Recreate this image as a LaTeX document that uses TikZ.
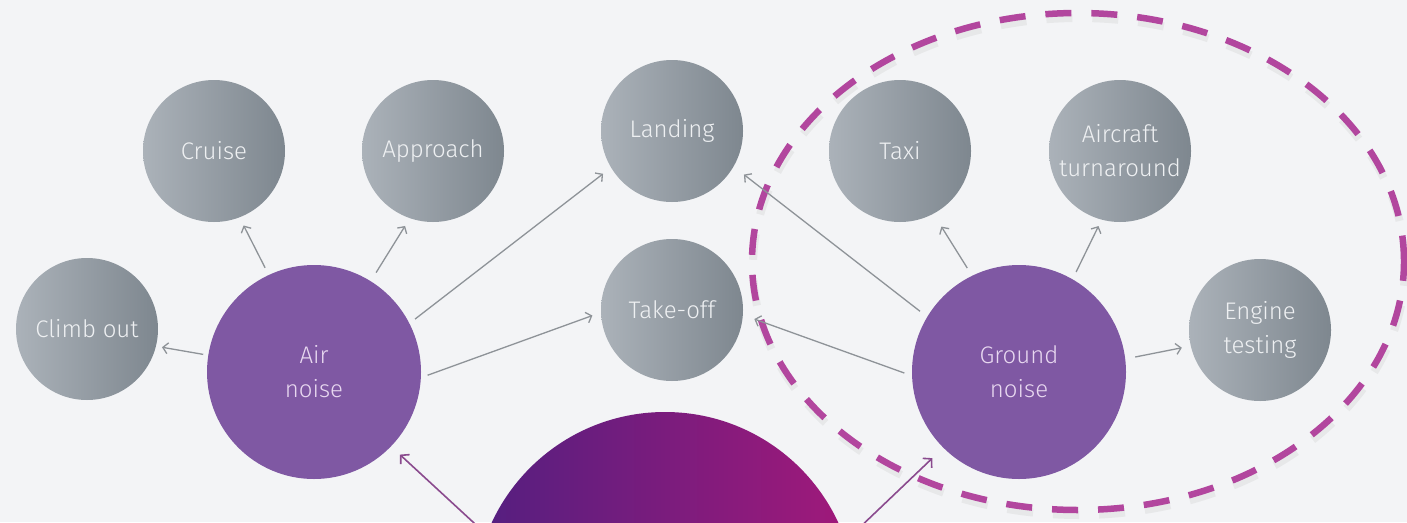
\documentclass[tikz,border=0pt]{standalone}
\usepackage{fontspec}
\IfFontExistsTF{Fira Sans Light}{\setmainfont{Fira Sans Light}}{\setmainfont{Open Sans}}
\usetikzlibrary{arrows.meta}
\definecolor{bgc}{HTML}{F3F4F6}
\definecolor{gL}{HTML}{ABB2B9}
\definecolor{gR}{HTML}{7E878F}
\definecolor{gT}{HTML}{EEF0F2}
\definecolor{pur}{HTML}{7F58A3}
\definecolor{purT}{HTML}{E8D8F0}
\definecolor{coreL}{HTML}{531F80}
\definecolor{coreM}{HTML}{741F7F}
\definecolor{coreR}{HTML}{A2197A}
\definecolor{arrG}{HTML}{8E9398}
\definecolor{arrP}{HTML}{8A4A8E}
\definecolor{dashC}{HTML}{B2469E}
\tikzset{
  greyball/.style={circle, minimum size=142pt, inner sep=0pt, left color=gL, right color=gR,
    text=gT, align=center, font=\fontsize{24}{34}\selectfont},
  purball/.style={circle, minimum size=214pt, inner sep=0pt, fill=pur,
    text=purT, align=center, font=\fontsize{24}{34}\selectfont},
  coreball/.style={circle, minimum size=382pt, inner sep=0pt, left color=coreL, middle color=coreM, right color=coreR},
  garrow/.style={draw=arrG, line width=1.3pt, -{Straight Barb[length=5pt,width=11pt]}},
  parrow/.style={draw=arrP, line width=1.6pt, -{Straight Barb[length=6pt,width=13pt]}},
  groupring/.style={draw=dashC, line width=6.5pt, dash pattern=on 26pt off 20pt},
  ringshadow/.style={draw=black!50, line width=8pt, opacity=0.10, dash pattern=on 26pt off 20pt}
}
\begin{document}
\begin{tikzpicture}[x=1pt,y=-1pt]
\fill[bgc] (0,0) rectangle (1407,522);
\useasboundingbox (0,0) rectangle (1407,522);
\clip (0,0) rectangle (1407,522);
% nodes
\node[greyball] (climb) at (87,329) {Climb out};
\node[greyball] (cruise) at (214,151) {Cruise};
\node[greyball] (approach) at (433,151) {Approach};
\node[greyball] (landing) at (672,131) {Landing};
\node[greyball] (takeoff) at (672,310) {Take-off};
\node[greyball] (taxi) at (900,151) {Taxi};
\node[greyball] (aircraft) at (1120,151) {Aircraft\\turnaround};
\node[greyball] (engine) at (1260,330) {Engine\\testing};
\node[purball] (air) at (314,372) {Air\\noise};
\node[purball] (ground) at (1019,372) {Ground\\noise};
\node[coreball] (core) at (665,603) {};
% dashed group ring
\draw[ringshadow] (1079,266.5) ellipse [x radius=326pt, y radius=248.5pt];
\draw[groupring] (1078,261.5) ellipse [x radius=326pt, y radius=248.5pt];
% grey arrows
\draw[garrow, shorten <=5pt, shorten >=6pt] (air.171) -- (climb.-14);
\draw[garrow, shorten <=8pt, shorten >=9pt] (air.115) -- (cruise.-69.5);
\draw[garrow, shorten <=10pt, shorten >=9pt] (air.58) -- (approach.-109);
\draw[garrow, shorten <=7pt, shorten >=10pt] (air.27) -- (landing.211);
\draw[garrow, shorten <=7pt, shorten >=9pt] (air.-3) -- (takeoff.182);
\draw[garrow, shorten <=9pt, shorten >=13pt] (ground.149.5) -- (landing.-30);
\draw[garrow, shorten <=8pt, shorten >=12pt] (ground.182.5) -- (takeoff.-4.8);
\draw[garrow, shorten <=9pt, shorten >=15pt] (ground.116) -- (taxi.-62.5);
\draw[garrow, shorten <=8pt, shorten >=7pt] (ground.60) -- (aircraft.-105.6);
\draw[garrow, shorten <=10pt, shorten >=9pt] (ground.7.8) -- (engine.193);
% purple arrows
\draw[parrow, shorten <=10pt, shorten >=12pt] (core.159.6) -- (air.-44);
\draw[parrow, shorten <=10pt, shorten >=15pt] (core.19.9) -- (ground.-135.3);
\end{tikzpicture}
\end{document}
